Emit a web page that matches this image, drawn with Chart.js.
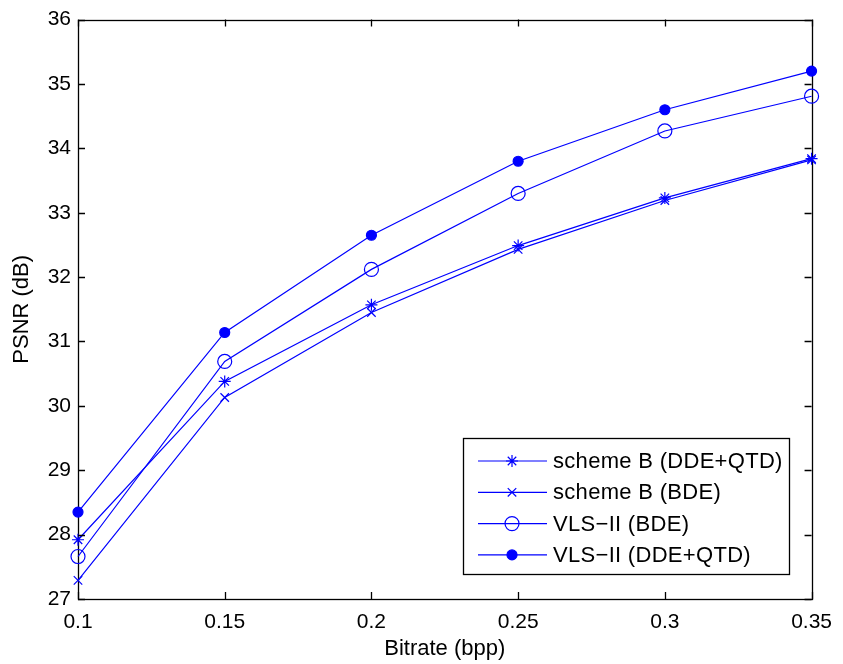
<!DOCTYPE html>
<html>
<head>
<meta charset="utf-8">
<script src="https://cdn.jsdelivr.net/npm/chart.js@4.4.1/dist/chart.umd.min.js"></script>
<style>
  html, body { margin: 0; padding: 0; background: #fff; }
  canvas { display: block; }
</style>
</head>
<body>
<canvas id="psnrChart" width="843" height="664"></canvas>
<script>
// bitrate (bpp) on x, PSNR (dB) on y
const bitrates = [0.1, 0.15, 0.2, 0.25, 0.3, 0.35];
const schemeB_ddeqtd = [27.92, 30.38, 31.57, 32.49, 33.23, 33.84];
const schemeB_bde    = [27.29, 30.13, 31.45, 32.43, 33.19, 33.82];
const vls_bde        = [27.66, 30.69, 32.12, 33.30, 34.27, 34.81];
const vls_ddeqtd     = [28.35, 31.14, 32.65, 33.80, 34.60, 35.20];

const xTicks = [0.1, 0.15, 0.2, 0.25, 0.3, 0.35];
const yTicks = [27, 28, 29, 30, 31, 32, 33, 34, 35, 36];

const BLUE = '#0000ff';
const FONT = 'Liberation Sans, Arial, Helvetica, sans-serif';

function pts(ys) {
  return bitrates.map((x, i) => ({ x: x, y: ys[i] }));
}

function series(label, ys, style, radius, fill) {
  return {
    label: label,
    data: pts(ys),
    borderColor: BLUE,
    backgroundColor: fill,
    borderWidth: 1.2,
    pointStyle: style,
    pointRadius: radius,
    pointHoverRadius: radius,
    pointBorderColor: BLUE,
    pointBackgroundColor: fill,
    pointBorderWidth: 1.2,
    clip: false,
    tension: 0
  };
}

// MATLAB-style box, inward ticks and a legend sitting inside the axes
const matlabBox = {
  id: 'matlabBox',
  beforeDatasetsDraw(chart) {
    const { ctx, chartArea: a } = chart;
    ctx.save();
    ctx.strokeStyle = '#000';
    ctx.lineWidth = 1.3;
    ctx.strokeRect(Math.round(a.left) + 0.5, Math.round(a.top) + 0.5,
      Math.round(a.right - a.left), Math.round(a.bottom - a.top));
    ctx.restore();
  },
  afterDatasetsDraw(chart) {
    const { ctx, chartArea: a, scales } = chart;
    ctx.save();
    ctx.strokeStyle = '#000';
    ctx.lineWidth = 1.3;
    const tl = 7;
    ctx.beginPath();
    xTicks.forEach(v => {
      const px = Math.round(scales.x.getPixelForValue(v)) + 0.5;
      ctx.moveTo(px, a.bottom); ctx.lineTo(px, a.bottom - tl);
      ctx.moveTo(px, a.top); ctx.lineTo(px, a.top + tl);
    });
    yTicks.forEach(v => {
      const py = Math.round(scales.y.getPixelForValue(v)) + 0.5;
      ctx.moveTo(a.left, py); ctx.lineTo(a.left + tl, py);
      ctx.moveTo(a.right, py); ctx.lineTo(a.right - tl, py);
    });
    ctx.stroke();

    // legend
    const bx = 463, by = 438, bw = 326, bh = 136;
    ctx.fillStyle = '#fff';
    ctx.fillRect(bx, by, bw, bh);
    ctx.lineWidth = 1.3;
    ctx.strokeStyle = '#000';
    ctx.strokeRect(bx + 0.5, by + 0.5, bw, bh);

    ctx.font = '22px ' + FONT;
    ctx.textBaseline = 'middle';
    ctx.textAlign = 'left';
    ctx.letterSpacing = '0.3px';
    chart.data.datasets.forEach((ds, i) => {
      const y = 461 + i * 31.3;
      ctx.strokeStyle = BLUE;
      ctx.lineWidth = 1.2;
      ctx.beginPath();
      ctx.moveTo(478, y); ctx.lineTo(547, y);
      ctx.stroke();
      ctx.fillStyle = ds.pointBackgroundColor;
      Chart.helpers.drawPoint(ctx, {
        pointStyle: ds.pointStyle, radius: ds.pointRadius,
        rotation: 0, borderWidth: 1.2
      }, 512, y);
      ctx.fillStyle = '#000';
      ctx.fillText(ds.label, 553, y + 1);
    });
    ctx.restore();
  }
};

new Chart(document.getElementById('psnrChart'), {
  type: 'line',
  data: {
    datasets: [
      series('scheme B (DDE+QTD)', schemeB_ddeqtd, 'star', 6, 'rgba(0,0,0,0)'),
      series('scheme B (BDE)', schemeB_bde, 'crossRot', 6, 'rgba(0,0,0,0)'),
      series('VLS\u2212II (BDE)', vls_bde, 'circle', 7, 'rgba(0,0,0,0)'),
      series('VLS\u2212II (DDE+QTD)', vls_ddeqtd, 'circle', 5, BLUE)
    ]
  },
  options: {
    responsive: false,
    animation: false,
    layout: { padding: { top: 18, right: 26, left: 0, bottom: 0 } },
    plugins: {
      legend: { display: false },
      tooltip: { enabled: false }
    },
    scales: {
      x: {
        type: 'linear',
        min: 0.1,
        max: 0.35,
        afterBuildTicks: s => { s.ticks = xTicks.map(v => ({ value: v })); },
        afterFit: s => { s.height = 65; },
        grid: { display: false, drawTicks: false },
        border: { display: false },
        ticks: {
          color: '#000',
          padding: 11,
          maxRotation: 0,
          font: { family: FONT, size: 21 },
          callback: v => String(parseFloat(v.toFixed(2)))
        },
        title: {
          display: true,
          text: 'Bitrate (bpp)',
          color: '#000',
          font: { family: FONT, size: 22 },
          padding: { top: 0, bottom: 2 }
        }
      },
      y: {
        min: 27,
        max: 36,
        afterBuildTicks: s => { s.ticks = yTicks.map(v => ({ value: v })); },
        afterFit: s => { s.width = 78; },
        grid: { display: false, drawTicks: false },
        border: { display: false },
        ticks: {
          color: '#000',
          padding: 7,
          font: { family: FONT, size: 21 }
        },
        title: {
          display: true,
          text: 'PSNR (dB)',
          color: '#000',
          font: { family: FONT, size: 22 },
          padding: { top: 9, bottom: 0 }
        }
      }
    }
  },
  plugins: [matlabBox]
});
</script>
</body>
</html>
